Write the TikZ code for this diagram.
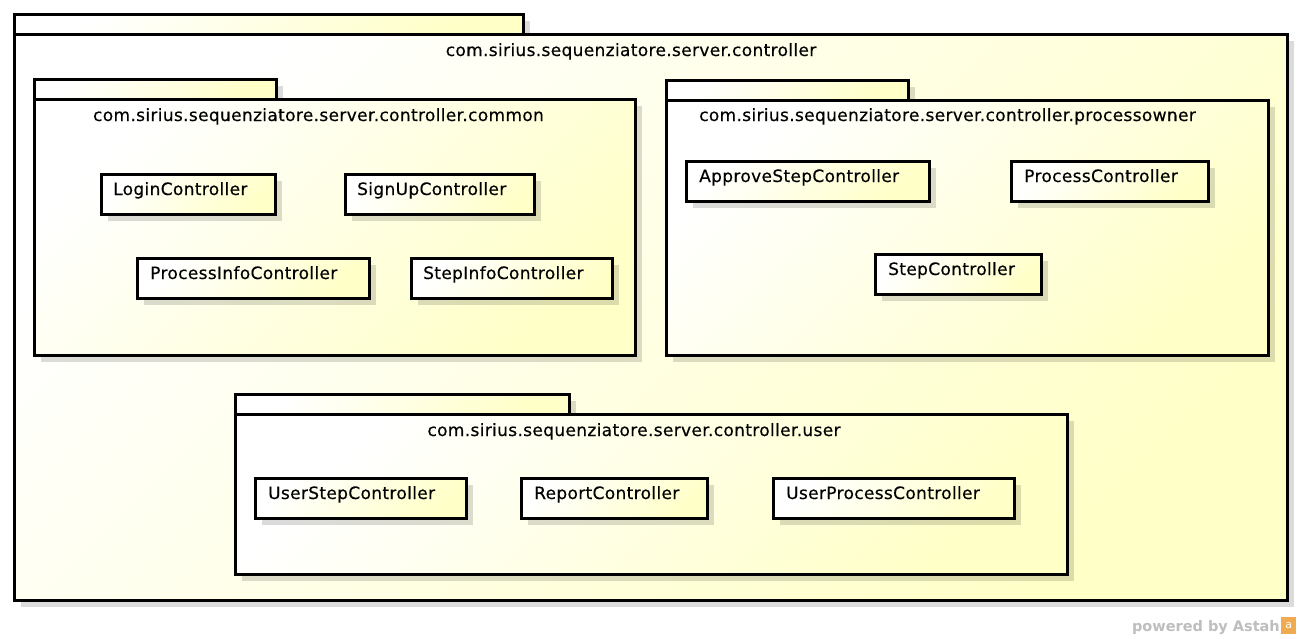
\documentclass[tikz,border=0pt]{standalone}
\usepackage{fontspec}
\setmainfont{DejaVu Sans}
\newfontfamily\umlfont[LetterSpace=2,FakeBold=0.4]{DejaVu Sans}
\usetikzlibrary{shadows,calc}
\definecolor{ylw}{RGB}{255,255,200}
\definecolor{wmgray}{RGB}{190,190,190}
\definecolor{wmorange}{RGB}{240,170,80}
\tikzset{
  boxshade/.style={top color=white, bottom color=ylw, shading angle=45},
  umlbox/.style={draw=black, line width=2.6pt, boxshade, inner sep=0pt, anchor=north west,
    drop shadow={shadow xshift=7pt, shadow yshift=-7pt, fill=black, opacity=0.14}},
  lbl/.style={font=\umlfont\fontsize{17}{20}\selectfont, inner sep=0pt},
}
\newcommand{\clsbox}[5]{% name, x1, y1, x2, y2
  \node[umlbox, minimum width={#4-#2}, minimum height={#5-#3}] (#1) at (#2,#3) {};}
\begin{document}
\begin{tikzpicture}[x=1pt,y=-1pt]
\useasboundingbox (0,0) rectangle (1300,638);
\fill[white] (0,0) rectangle (1300,638);
% outer package
\clsbox{outertab}{13}{13}{522}{33}
\clsbox{outer}{13}{33}{1286}{599}
\node[lbl, anchor=base] (outerlbl) at (631,56) {com.sirius.sequenziatore.server.controller};
% common package
\clsbox{commontab}{33}{78}{275}{98}
\clsbox{common}{33}{98}{634}{354}
\node[lbl, anchor=base] (commonlbl) at (318.5,121) {com.sirius.sequenziatore.server.controller.common};
% processowner package
\clsbox{potab}{665}{79}{907}{99}
\clsbox{po}{665}{99}{1267}{354}
\node[lbl, anchor=base] (polbl) at (947.5,121) {com.sirius.sequenziatore.server.controller.processowner};
% user package
\clsbox{usertab}{234}{393}{568}{413}
\clsbox{user}{234}{413}{1066}{573}
\node[lbl, anchor=base] (userlbl) at (634,436) {com.sirius.sequenziatore.server.controller.user};
% classes
\clsbox{login}{100}{173}{274}{213}
\node[lbl, anchor=base west] (logint) at (113,195) {LoginController};
\clsbox{signup}{344}{173}{533}{213}
\node[lbl, anchor=base west] (signupt) at (357,195) {SignUpController};
\clsbox{pinfo}{136}{257}{368}{297}
\node[lbl, anchor=base west] (pinfot) at (150,279) {ProcessInfoController};
\clsbox{sinfo}{410}{257}{611}{297}
\node[lbl, anchor=base west] (sinfot) at (423,279) {StepInfoController};
\clsbox{approve}{685}{160}{928}{200}
\node[lbl, anchor=base west] (approvet) at (699,182) {ApproveStepController};
\clsbox{process}{1010}{160}{1207}{200}
\node[lbl, anchor=base west] (processt) at (1024,182) {ProcessController};
\clsbox{step}{874}{253}{1040}{293}
\node[lbl, anchor=base west] (stept) at (888,275) {StepController};
\clsbox{ustep}{254}{477}{465}{517}
\node[lbl, anchor=base west] (ustept) at (268,499) {UserStepController};
\clsbox{report}{520}{477}{706}{517}
\node[lbl, anchor=base west] (reportt) at (534,499) {ReportController};
\clsbox{uproc}{772}{477}{1013}{517}
\node[lbl, anchor=base west] (uproct) at (786,499) {UserProcessController};
% watermark
\node[font=\fontsize{14.5}{16}\bfseries, text=wmgray, inner sep=0pt, anchor=base east] (wm) at (1280,631) {powered by Astah};
\node[fill=wmorange, minimum width=15pt, minimum height=17pt, inner sep=0pt, anchor=north west, text=white, font=\fontsize{11}{11}\selectfont] (wmicon) at (1281,617) {a};
\end{tikzpicture}
\end{document}
